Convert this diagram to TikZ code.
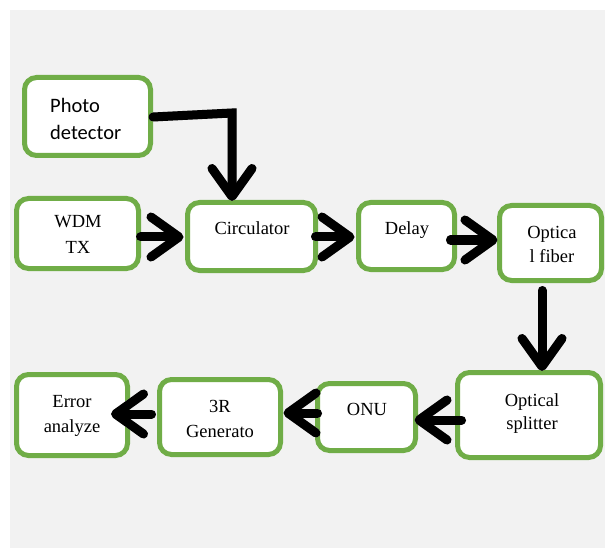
\documentclass[tikz,border=0pt]{standalone}
\usepackage{fontspec}
\setmainfont{Liberation Serif}
\newfontfamily\calib{Carlito}
\usetikzlibrary{arrows.meta,calc}
\definecolor{bggray}{HTML}{F2F2F2}
\definecolor{boxgreen}{HTML}{70AD47}
\tikzset{
  blockbox/.style={draw=boxgreen, line width=5pt, fill=white, rounded corners=12pt,
    inner sep=0pt, outer sep=0pt},
  txt/.style={anchor=base, inner sep=0pt, font=\fontsize{18.5}{20}\selectfont},
  pdtxt/.style={anchor=base west, inner sep=0pt, font=\calib\fontsize{20.5}{24}\selectfont},
  flowshadow/.style={line width=9pt, line cap=round, line join=miter, black!22,
    -{Straight Barb[length=28pt, width=40pt, round]}},
  flow/.style={line width=9pt, line cap=round, line join=miter, black,
    -{Straight Barb[length=28pt, width=40pt, round]}},
}
\begin{document}
\begin{tikzpicture}[x=1pt,y=-1pt]
\useasboundingbox (0,0) rectangle (605,548);
\fill[bggray] (10,10) rectangle (605,548);

% boxes
\node[blockbox, minimum width=126pt, minimum height=78pt] (pd) at (87.5,116.5) {};
\node[blockbox, minimum width=122pt, minimum height=70pt] (wdm) at (77.5,233.5) {};
\node[blockbox, minimum width=128pt, minimum height=68pt] (circ) at (251.5,236.5) {};
\node[blockbox, minimum width=96pt, minimum height=67pt] (delay) at (406.5,236) {};
\node[blockbox, minimum width=102pt, minimum height=75pt] (fiber) at (550.5,243) {};
\node[blockbox, minimum width=143pt, minimum height=85pt] (split) at (529,415) {};
\node[blockbox, minimum width=98pt, minimum height=67pt] (onu) at (366.5,417) {};
\node[blockbox, minimum width=121pt, minimum height=75pt] (gen) at (220,417) {};
\node[blockbox, minimum width=111pt, minimum height=81pt] (err) at (72,415) {};

% texts
\node[pdtxt] (t1a) at (50,113) {Photo};
\node[pdtxt] (t1b) at (50,140) {detector};
\node[txt] (t2a) at (78,228) {WDM};
\node[txt] (t2b) at (78,253) {TX};
\node[txt] (t3) at (252,234) {Circulator};
\node[txt] (t4) at (407,234) {Delay};
\node[txt] (t5a) at (552,238) {Optica};
\node[txt] (t5b) at (552,262) {l fiber};
\node[txt] (t6a) at (532,406) {Optical};
\node[txt] (t6b) at (532,429) {splitter};
\node[txt] (t7) at (367,415) {ONU};
\node[txt] (t8a) at (220,412) {3R};
\node[txt] (t8b) at (220,437) {Generato};
\node[txt] (t9a) at (72,407) {Error};
\node[txt] (t9b) at (72,432) {analyze};

% connector coordinates
\coordinate (pdout) at (153,117);
\coordinate (bend) at (232,113);
\coordinate (circin) at (232,201);
\coordinate (a1) at ($(wdm.east)+(2,3.5)$);
\coordinate (b1) at ($(circ.west)+(-4,0.5)$);
\coordinate (a2) at ($(circ.east)+(0,0.5)$);
\coordinate (b2) at ($(delay.west)+(-4,1)$);
\coordinate (a3) at ($(delay.east)+(-4,4)$);
\coordinate (b3) at ($(fiber.west)+(-2,-3)$);
\coordinate (a4) at ($(fiber.south)+(-8.5,10)$);
\coordinate (b4) at ($(split.north)+(13,-1.5)$);
\coordinate (a5) at ($(split.west)+(4,5)$);
\coordinate (b5) at ($(onu.east)+(-1,3)$);
\coordinate (a6) at ($(onu.west)+(0,-4)$);
\coordinate (b6) at ($(gen.east)+(3,-4)$);
\coordinate (a7) at ($(gen.west)+(-8,-3)$);
\coordinate (b7) at ($(err.east)+(-16.5,-1)$);

% arrow shadows
\begin{scope}[shift={(1.5,2.5)}]
\draw[flowshadow] (pdout) -- (bend) -- (circin);
\draw[flowshadow] (a1) -- (b1);
\draw[flowshadow] (a2) -- (b2);
\draw[flowshadow] (a3) -- (b3);
\draw[flowshadow] (a4) -- (b4);
\draw[flowshadow] (a5) -- (b5);
\draw[flowshadow] (a6) -- (b6);
\draw[flowshadow] (a7) -- (b7);
\end{scope}
% arrows
\draw[flow] (pdout) -- (bend) -- (circin);
\draw[flow] (a1) -- (b1);
\draw[flow] (a2) -- (b2);
\draw[flow] (a3) -- (b3);
\draw[flow] (a4) -- (b4);
\draw[flow] (a5) -- (b5);
\draw[flow] (a6) -- (b6);
\draw[flow] (a7) -- (b7);
\end{tikzpicture}
\end{document}
